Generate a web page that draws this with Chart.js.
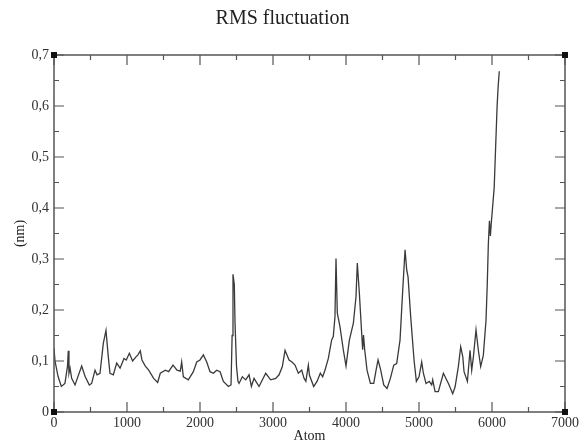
<!DOCTYPE html>
<html>
<head>
<meta charset="utf-8">
<script src="https://cdn.jsdelivr.net/npm/chart.js@4/dist/chart.umd.min.js"></script>
<style>
  html, body { margin: 0; padding: 0; background: #fff; }
  #wrap { width: 587px; height: 445px; }
</style>
</head>
<body>
<div id="wrap"><canvas id="rmsf" width="587" height="445"></canvas></div>
<script>
// atom index and RMSF (nm)
const atoms = [
  0, 14, 55, 100, 150, 185, 196, 205, 220, 242, 288, 379, 425, 484, 516, 562, 590, 630,
  676, 712, 744, 767, 813, 859, 905, 959, 990, 1032, 1077, 1123, 1150, 1182, 1205, 1251,
  1297, 1365, 1420, 1456, 1525, 1570, 1630, 1685, 1730, 1749, 1772, 1840, 1909, 1955,
  2000, 2046, 2092, 2137, 2183, 2229, 2275, 2320, 2389, 2425, 2440, 2452, 2470, 2480,
  2500, 2520, 2535, 2580, 2626, 2672, 2704, 2740, 2809, 2900, 2968, 3037, 3083, 3128,
  3165, 3220, 3260, 3302, 3347, 3393, 3425, 3450, 3484, 3500, 3557, 3603, 3648, 3680,
  3712, 3758, 3803, 3826, 3849, 3863, 3881, 3918, 3963, 4000, 4046, 4101, 4137, 4155,
  4183, 4215, 4228, 4240, 4256, 4288, 4334, 4380, 4412, 4439, 4471, 4517, 4562, 4608,
  4654, 4694, 4740, 4777, 4809, 4832, 4850, 4886, 4932, 4964, 5000, 5037, 5060, 5096,
  5140, 5174, 5188, 5220, 5265, 5334, 5403, 5462, 5494, 5539, 5571, 5600, 5617, 5663,
  5699, 5722, 5745, 5781, 5813, 5845, 5881, 5918, 5935, 5950, 5965, 5978, 5990, 6030,
  6050, 6070, 6085, 6100
];
const rmsf = [
  0.125, 0.100, 0.070, 0.050, 0.056, 0.090, 0.120, 0.076, 0.086, 0.066, 0.053, 0.090, 0.070, 0.053, 0.056, 0.082, 0.073, 0.076,
  0.135, 0.160, 0.108, 0.076, 0.073, 0.096, 0.086, 0.105, 0.102, 0.115, 0.100, 0.108, 0.112, 0.120, 0.102, 0.090,
  0.082, 0.066, 0.058, 0.076, 0.082, 0.079, 0.092, 0.082, 0.080, 0.098, 0.069, 0.063, 0.079, 0.098,
  0.102, 0.112, 0.098, 0.079, 0.076, 0.082, 0.079, 0.060, 0.050, 0.053, 0.150, 0.270, 0.250, 0.174,
  0.090, 0.060, 0.056, 0.069, 0.063, 0.073, 0.050, 0.066, 0.050, 0.076, 0.063, 0.066, 0.073, 0.089,
  0.121, 0.102, 0.098, 0.092, 0.076, 0.082, 0.066, 0.060, 0.092, 0.072, 0.050, 0.060, 0.076, 0.069,
  0.082, 0.105, 0.141, 0.148, 0.187, 0.301, 0.194, 0.167, 0.122, 0.090, 0.141, 0.174, 0.226, 0.292,
  0.233, 0.154, 0.122, 0.151, 0.122, 0.082, 0.056, 0.056, 0.082, 0.102, 0.085, 0.053, 0.046, 0.066,
  0.092, 0.095, 0.141, 0.239, 0.318, 0.278, 0.265, 0.187, 0.102, 0.060, 0.069, 0.098, 0.076, 0.056,
  0.060, 0.053, 0.063, 0.040, 0.040, 0.076, 0.056, 0.036, 0.049, 0.089, 0.128, 0.108, 0.079, 0.060,
  0.121, 0.082, 0.108, 0.161, 0.121, 0.089, 0.111, 0.180, 0.250, 0.330, 0.375, 0.345, 0.370, 0.440,
  0.520, 0.600, 0.640, 0.668
];
const xTicks = [0, 1000, 2000, 3000, 4000, 5000, 6000, 7000];
const yTicks = [0, 0.1, 0.2, 0.3, 0.4, 0.5, 0.6, 0.7];

const SERIF = "'Liberation Serif', 'DejaVu Serif', serif";
const AXIS = "#555";

// grace-style frame: box, inward ticks on all sides, corner squares
const frame = {
  id: "frame",
  afterDraw(chart) {
    const { ctx, chartArea: a, scales } = chart;
    const xs = scales.x, ys = scales.y;
    ctx.save();
    ctx.strokeStyle = AXIS;
    ctx.lineWidth = 1.5;
    ctx.strokeRect(a.left, a.top, a.right - a.left, a.bottom - a.top);
    ctx.lineWidth = 1.2;
    ctx.beginPath();
    for (let v = 0; v <= 7000; v += 500) {
      const px = xs.getPixelForValue(v);
      const len = v % 1000 === 0 ? 10 : 5;
      ctx.moveTo(px, a.bottom); ctx.lineTo(px, a.bottom - len);
      ctx.moveTo(px, a.top); ctx.lineTo(px, a.top + len);
    }
    for (let i = 0; i <= 14; i++) {
      const py = ys.getPixelForValue(i * 0.05);
      const len = i % 2 === 0 ? 10 : 5;
      ctx.moveTo(a.left, py); ctx.lineTo(a.left + len, py);
      ctx.moveTo(a.right, py); ctx.lineTo(a.right - len, py);
    }
    ctx.stroke();
    ctx.fillStyle = "#111";
    [[a.left, a.top], [a.right, a.top], [a.left, a.bottom], [a.right, a.bottom]].forEach(([x, y]) => {
      ctx.fillRect(x - 3, y - 3, 6, 6);
    });
    ctx.restore();
  }
};

new Chart(document.getElementById("rmsf"), {
  type: "line",
  data: {
    datasets: [{
      label: "RMSF",
      data: atoms.map((a, i) => ({ x: a, y: rmsf[i] })),
      borderColor: "#3a3a3a",
      borderWidth: 1.3,
      pointRadius: 0,
      tension: 0,
      fill: false
    }]
  },
  options: {
    responsive: false,
    animation: false,
    layout: { padding: { left: 0, right: 22, top: 0, bottom: 0 } },
    plugins: {
      legend: { display: false },
      tooltip: { enabled: false },
      title: {
        display: true,
        text: "RMS fluctuation",
        color: "#222",
        font: { family: SERIF, size: 20, weight: "normal" },
        padding: { top: 7, bottom: 24 }
      }
    },
    scales: {
      x: {
        type: "linear",
        min: 0,
        max: 7000,
        grid: { display: false, drawTicks: false },
        border: { display: false },
        afterBuildTicks: (s) => { s.ticks = xTicks.map((v) => ({ value: v })); },
        afterFit: (s) => { s.height = 33; },
        ticks: {
          color: "#333",
          padding: 3,
          maxRotation: 0,
          font: { family: SERIF, size: 14 },
          callback: (v) => String(v)
        },
        title: {
          display: true,
          text: "Atom",
          color: "#222",
          font: { family: SERIF, size: 14 },
          padding: { top: 0, bottom: 0 }
        }
      },
      y: {
        min: 0,
        max: 0.7,
        grid: { display: false, drawTicks: false },
        border: { display: false },
        afterBuildTicks: (s) => { s.ticks = yTicks.map((v) => ({ value: v })); },
        afterFit: (s) => { s.width = 54; },
        ticks: {
          color: "#333",
          padding: 5,
          font: { family: SERIF, size: 14 },
          callback: (v) => v === 0 ? "0" : v.toFixed(1).replace(".", ",")
        },
        title: {
          display: true,
          text: "(nm)",
          color: "#222",
          font: { family: SERIF, size: 14 },
          padding: { top: 12, bottom: 0 }
        }
      }
    }
  },
  plugins: [frame]
});
</script>
</body>
</html>
